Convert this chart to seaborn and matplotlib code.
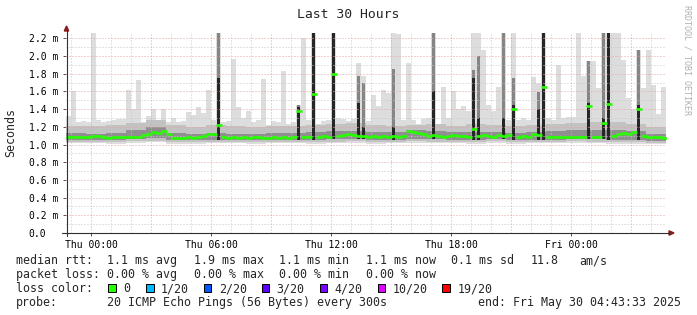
import numpy as np
import pandas as pd
import matplotlib
matplotlib.use("Agg")
import matplotlib.pyplot as plt
from matplotlib.lines import Line2D
from matplotlib.patches import Polygon, Rectangle
import seaborn as sns

# ---------------- data (15-minute bins, 120 bins over 30 hours) ----------------
rtt_max = [1.32, 1.60, 1.25, 1.26, 1.25, 2.26, 1.28, 1.25, 1.26, 1.28,
           1.29, 1.29, 1.62, 1.40, 1.73, 1.25, 1.32, 1.40, 1.28, 1.40,
           1.25, 1.30, 1.25, 1.26, 1.37, 1.33, 1.42, 1.36, 1.62, 1.28,
           2.26, 1.25, 1.27, 1.97, 1.42, 1.30, 1.38, 1.25, 1.28, 1.74,
           1.22, 1.27, 1.25, 1.83, 1.23, 1.25, 1.45, 2.20, 1.28, 2.26,
           1.23, 1.26, 1.28, 2.26, 1.30, 1.29, 1.27, 1.29, 1.92, 1.77,
           1.26, 1.56, 1.44, 1.62, 1.58, 2.26, 2.25, 1.28, 1.92, 1.28,
           1.23, 1.29, 1.30, 2.26, 1.23, 1.65, 1.30, 1.60, 1.40, 1.44,
           1.38, 2.26, 2.26, 2.07, 1.45, 1.38, 1.65, 2.26, 1.28, 2.26,
           1.28, 1.30, 1.28, 1.76, 1.70, 2.26, 1.30, 1.28, 1.90, 1.30,
           1.31, 1.31, 2.26, 1.77, 1.94, 1.94, 1.64, 2.26, 2.26, 2.26,
           2.26, 1.96, 1.52, 1.40, 2.07, 1.64, 2.07, 1.67, 1.35, 1.65]

rtt_median = [1.08, 1.08, 1.09, 1.09, 1.08, 1.10, 1.10, 1.08, 1.07, 1.08,
              1.08, 1.09, 1.08, 1.09, 1.08, 1.11, 1.12, 1.14, 1.13, 1.15,
              1.12, 1.07, 1.07, 1.07, 1.08, 1.07, 1.09, 1.10, 1.12, 1.12,
              1.22, 1.08, 1.07, 1.08, 1.07, 1.08, 1.07, 1.08, 1.08, 1.07,
              1.07, 1.08, 1.07, 1.08, 1.07, 1.08, 1.38, 1.08, 1.08, 1.57,
              1.09, 1.10, 1.09, 1.80, 1.10, 1.11, 1.12, 1.11, 1.10, 1.10,
              1.09, 1.10, 1.09, 1.10, 1.09, 1.10, 1.09, 1.10, 1.15, 1.14,
              1.13, 1.12, 1.10, 1.11, 1.10, 1.09, 1.10, 1.11, 1.10, 1.10,
              1.09, 1.18, 1.10, 1.11, 1.10, 1.09, 1.11, 1.10, 1.11, 1.40,
              1.09, 1.10, 1.09, 1.12, 1.11, 1.65, 1.08, 1.09, 1.09, 1.08,
              1.09, 1.09, 1.08, 1.09, 1.43, 1.08, 1.09, 1.24, 1.46, 1.10,
              1.12, 1.13, 1.12, 1.14, 1.40, 1.10, 1.09, 1.08, 1.08, 1.07]

# hourly smoke quantile bands (30 values)
smoke_hi = [1.21, 1.21, 1.22, 1.24, 1.28, 1.22, 1.20, 1.22, 1.21, 1.20,
            1.21, 1.21, 1.22, 1.23, 1.24, 1.22, 1.21, 1.22, 1.23, 1.21,
            1.23, 1.22, 1.21, 1.22, 1.23, 1.24, 1.25, 1.25, 1.23, 1.20]
smoke_dark_hi = [1.13, 1.12, 1.13, 1.16, 1.20, 1.13, 1.12, 1.13, 1.12, 1.12,
                 1.13, 1.13, 1.14, 1.15, 1.15, 1.14, 1.14, 1.16, 1.15, 1.14,
                 1.14, 1.14, 1.13, 1.14, 1.15, 1.16, 1.16, 1.16, 1.15, 1.12]
smoke_dark_lo = [1.05, 1.05, 1.05, 1.06, 1.07, 1.05, 1.05, 1.05, 1.05, 1.05,
                 1.05, 1.05, 1.05, 1.06, 1.06, 1.05, 1.05, 1.06, 1.06, 1.05,
                 1.05, 1.06, 1.05, 1.05, 1.05, 1.06, 1.06, 1.05, 1.05, 1.04]
smoke_lo = [1.03, 1.03, 1.03, 1.04, 1.04, 1.03, 1.03, 1.03, 1.03, 1.03,
            1.03, 1.03, 1.03, 1.03, 1.04, 1.03, 1.03, 1.04, 1.03, 1.03,
            1.03, 1.04, 1.03, 1.03, 1.03, 1.04, 1.03, 1.03, 1.03, 1.02]
rtt_min = [1.02, 1.02, 1.01, 1.02, 1.03, 1.01, 1.01, 1.02, 1.02, 1.01,
           1.02, 1.02, 1.01, 1.02, 1.02, 1.01, 1.02, 1.02, 1.02, 1.02,
           1.01, 1.02, 1.01, 1.02, 1.02, 1.02, 1.02, 1.01, 1.01, 1.01]

# bins where the inner pings spiked (dark smoke columns)
spike_bin = [30, 46, 49, 53, 58, 59, 65, 73, 81, 82, 87, 89, 94, 95, 104, 107, 108, 114]
spike_mid = [2.26, 1.45, 2.26, 2.26, 1.77, 1.70, 1.85, 2.26, 1.84, 2.00,
             2.26, 1.75, 1.59, 2.26, 1.94, 2.26, 2.26, 2.07]
spike_dark = [1.75, 1.42, 2.26, 2.26, 1.47, 1.20, 1.20, 1.60, 1.75, 1.30,
              1.30, 1.45, 1.40, 2.26, 1.47, 1.30, 2.26, 1.45]

x_tick_hours = [0, 6, 12, 18, 24]
x_tick_labels = ["Thu 00:00", "Thu 06:00", "Thu 12:00", "Thu 18:00", "Fri 00:00"]
y_ticks = [0.0, 0.2, 0.4, 0.6, 0.8, 1.0, 1.2, 1.4, 1.6, 1.8, 2.0, 2.2]
y_tick_labels = ["0.0", "0.2 m", "0.4 m", "0.6 m", "0.8 m", "1.0 m",
                 "1.2 m", "1.4 m", "1.6 m", "1.8 m", "2.0 m", "2.2 m"]

title = "Last 30 Hours"
y_label = "Seconds"
watermark = "RRDTOOL / TOBI OETIKER"
legend_rows = [
    [("median rtt:", 16), ("1.1 ms avg", 107.3), ("1.9 ms max", 194),
     ("1.1 ms min", 279.3), ("1.1 ms now", 365.7), ("0.1 ms sd", 451),
     ("11.8", 530.7), ("am/s", 579.3)],
    [("packet loss:", 16), ("0.00 % avg", 107.3), ("0.00 % max", 194),
     ("0.00 % min", 279.3), ("0.00 % now", 365.7)],
    [("loss color:", 16)],
    [("probe:", 16), ("20 ICMP Echo Pings (56 Bytes) every 300s", 107.3),
     ("end: Fri May 30 04:43:33 2025", 478.3)],
]
loss_labels = ["0", "1/20", "2/20", "3/20", "4/20", "10/20", "19/20"]
loss_colors = ["#26ff00", "#00b8ff", "#0059ff", "#5e00ff", "#7e00ff", "#dd00ff", "#ff0000"]
loss_box_x = [108.3, 146.0, 203.7, 261.7, 319.7, 377.7, 442.3]

# ---------------- figure ----------------
sns.set_theme(style="white")
plt.rcParams["font.family"] = ["DejaVu Sans Mono", "DejaVu Sans"]

W, H = 697, 315
fx = lambda x: x / W
fy = lambda y: 1 - y / H

fig = plt.figure(figsize=(W / 100, H / 100), dpi=100)
fig.patch.set_facecolor("white")
ax = fig.add_axes([fx(66), fy(233), 600 / W, 200 / H])
ax.set_facecolor("white")

end_h = 28 + 43 / 60 + 33 / 3600
start_h = end_h - 30
n = len(rtt_max)
step = 30 / n
edges = start_h + step * np.arange(n + 1)
centers = edges[:-1] + step / 2


def hourly(a):
    return np.repeat(np.asarray(a, float), n // len(a))


def band(lo, hi, color, z):
    lo = np.asarray(lo, float)
    hi = np.asarray(hi, float)
    ax.fill_between(edges, np.append(lo, lo[-1]), np.append(hi, hi[-1]),
                    step="post", color=color, linewidth=0, zorder=z)


band(hourly(rtt_min), rtt_max, "#dddddd", 1)
band(hourly(smoke_lo), hourly(smoke_hi), "#c2c2c2", 1.2)
band(hourly(smoke_dark_lo), hourly(smoke_dark_hi), "#8f8f8f", 1.4)

sb = np.asarray(spike_bin)
base = hourly(smoke_dark_lo)[sb]
ax.bar(centers[sb], np.asarray(spike_mid) - base, bottom=base, width=step * 0.75,
       color="#858585", linewidth=0, zorder=1.6)
ax.bar(centers[sb], np.asarray(spike_dark) - base, bottom=base, width=step * 0.6,
       color="#262626", linewidth=0, zorder=1.8)

# grid (drawn over the smoke, as rrdtool does)
for h in range(int(np.ceil(start_h)), int(np.floor(end_h)) + 1):
    major = (h % 3 == 0)
    ax.axvline(h, color="#e6a3a3" if major else "#c8c8c8", lw=0.72,
               ls=(0, (1, 2)), zorder=3)
for k in range(1, 23):
    v = k / 10
    major = (k % 2 == 0)
    ax.axhline(v, color="#e6a3a3" if major else "#c8c8c8", lw=0.72,
               ls=(0, (1, 2)), zorder=3)

# median rtt as short horizontal bars coloured by loss
df = pd.DataFrame({"t": centers, "rtt": rtt_median})
sns.scatterplot(data=df, x="t", y="rtt", marker="_", s=17, linewidth=1.9,
                color=loss_colors[0], ax=ax, zorder=5, legend=False)

ax.set_xlim(start_h, end_h)
ax.set_ylim(0, 2.26)
ax.set_xlabel("")
ax.set_ylabel("")
for s in ax.spines.values():
    s.set_visible(False)
ax.grid(False)

ax.set_xticks(x_tick_hours, x_tick_labels)
ax.set_yticks(y_ticks, y_tick_labels)
ax.tick_params(axis="x", length=2, width=0.7, color="#505050", pad=3.0,
               labelsize=7, labelcolor="black", direction="out", bottom=True)
ax.tick_params(axis="y", length=2, width=0.7, color="#505050", pad=24.8,
               labelsize=7, labelcolor="black", direction="out", left=True)
for lab in ax.get_yticklabels():
    lab.set_horizontalalignment("left")

# axes lines and arrows
fig.add_artist(Line2D([fx(66.5), fx(66.5)], [fy(236), fy(30)], color="#303030",
                      lw=0.8, transform=fig.transFigure))
fig.add_artist(Line2D([fx(62), fx(670)], [fy(233), fy(233)], color="#303030",
                      lw=0.8, transform=fig.transFigure))
fig.add_artist(Polygon([[fx(64.3), fy(31)], [fx(68.7), fy(31)], [fx(66.5), fy(26)]],
                       closed=True, color="#8b1a1a", transform=fig.transFigure))
fig.add_artist(Polygon([[fx(669), fy(230.8)], [fx(669), fy(235.2)], [fx(674), fy(233)]],
                       closed=True, color="#8b1a1a", transform=fig.transFigure))

# texts
fig.text(fx(348), fy(18.5), title, ha="center", va="baseline", fontsize=9.45)
fig.text(fx(11), fy(132), y_label, rotation=90, ha="center", va="center", fontsize=8.4)
fig.text(fx(686.5), fy(60), watermark, rotation=270, ha="center", va="center",
         fontsize=6, color="#b0b0b0")

baselines = [264, 278, 292, 306]
for row, yb in zip(legend_rows, baselines):
    for txt, x in row:
        fig.text(fx(x), fy(yb), txt, ha="left", va="baseline", fontsize=8.37)

for lab, col, bx in zip(loss_labels, loss_colors, loss_box_x):
    fig.add_artist(Rectangle((fx(bx), fy(291.5)), 7.6 / W, 8 / H, facecolor=col,
                             edgecolor="black", lw=0.72, transform=fig.transFigure))
    fig.text(fx(bx + 15), fy(292), lab, ha="left", va="baseline", fontsize=8.37)

fig.savefig("out.png", dpi=100, facecolor="white")
